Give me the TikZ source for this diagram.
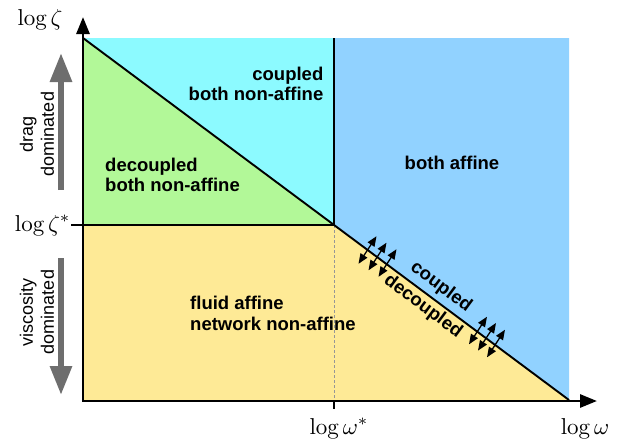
\documentclass[tikz,border=0pt]{standalone}
\usepackage{fontspec}
\newfontfamily\hv{Liberation Sans}
\usetikzlibrary{arrows.meta,calc}
\definecolor{cyanreg}{RGB}{140,250,255}
\definecolor{bluereg}{RGB}{145,210,255}
\definecolor{greenreg}{RGB}{178,248,152}
\definecolor{yellowreg}{RGB}{254,234,150}
\definecolor{grayarr}{RGB}{110,110,110}
\definecolor{dashgray}{RGB}{150,150,150}
\begin{document}
\begin{tikzpicture}[x=1pt,y=-1pt,
  axis/.style={line width=2.8pt, line join=miter},
  border/.style={line width=1.9pt, line join=miter},
  ticks/.style={line width=2.2pt},
  grayarrow/.style={grayarr, line width=6pt, -{Triangle[length=29pt,width=21pt]}},
  dbl/.style={line width=1.3pt, {Triangle[length=10pt,width=8pt]}-{Triangle[length=10pt,width=8pt]}},
  region/.style={font=\hv\bfseries\fontsize{18.5}{20.5}\selectfont, inner sep=0pt},
  sidetxt/.style={font=\hv\fontsize{18}{21}\selectfont, inner sep=0pt, align=center, rotate=90},
  mathlbl/.style={scale=2.3, inner sep=0pt}]
\useasboundingbox (0,0) rectangle (624,442);
% key points
\coordinate (O) at (83,401);
\coordinate (TL) at (83,38);
\coordinate (C) at (334,225);
\coordinate (L) at (83,225);
\coordinate (T) at (334,38);
\coordinate (TR) at (569,38);
\coordinate (BR) at (569,400);
\coordinate (BL) at (83,400);
\coordinate (B) at (334,401);
\coordinate (ytip) at (83,17);
\coordinate (xtip) at (597,401);
% regions
\fill[cyanreg] (TL) -- (T) -- (C) -- cycle;
\fill[greenreg] (TL) -- (C) -- (L) -- cycle;
\fill[bluereg] (T) -- (TR) -- (BR) -- (C) -- cycle;
\fill[yellowreg] (L) -- (C) -- (BR) -- (BL) -- cycle;
% dashed line
\draw[dashgray, line width=0.9pt, dash pattern=on 3pt off 2pt] (C) -- (B);
% borders
\draw[border] (TL) -- (BR);
\draw[border] (L) -- (C) -- (T);
% axes
\draw[axis, {Triangle[length=17pt,width=13pt]}-{Triangle[length=17pt,width=13pt]}] (ytip) -- (O) -- (xtip);
\coordinate (Lt) at (71,225);
\coordinate (Bt) at (334,409);
\draw[ticks] (L) -- (Lt);
\draw[ticks] (B) -- (Bt);
% gray arrows
\coordinate (ga1) at (61,190);
\coordinate (ga2) at (61,53);
\coordinate (gb1) at (61,258);
\coordinate (gb2) at (61,395);
\draw[grayarrow] (ga1) -- (ga2);
\draw[grayarrow] (gb1) -- (gb2);
% double arrows
\foreach \i/\cx/\cy in {1/367.5/250, 2/377.5/256.5, 3/387.5/263, 4/478/330.5, 5/487/336.8, 6/496/343.5} {
  \coordinate (d\i a) at (\cx-9,\cy+13.8);
  \coordinate (d\i b) at (\cx+9,\cy-13.8);
  \draw[dbl] (d\i a) -- (d\i b);
}
% labels
\node[region, align=right, anchor=north east] (cbna) at (323.5,66.8) {coupled\\both non-affine};
\node[region, align=left, anchor=north west] (dbna) at (105,157.8) {decoupled\\both non-affine};
\node[region] (ba) at (452,163) {both affine};
\node[region, align=left, anchor=north west] (fana) at (190,296) {fluid affine\\network non-affine};
\node[region, rotate=-36.6] (cpl) at (441,287) {coupled};
\node[region, rotate=-36.6] (dcpl) at (423,306.5) {decoupled};
\node[sidetxt] (drag) at (37,134) {drag\\dominated};
\node[sidetxt] (visc) at (37,312) {viscosity\\dominated};
% axis labels
\node[mathlbl, anchor=base] (ylab) at (40,25) {$\log\zeta$};
\node[mathlbl, anchor=base east] (zslab) at (71,231) {$\log\zeta^*$};
\node[mathlbl, anchor=base] (wslab) at (339,434) {$\log\omega^*$};
\node[mathlbl, anchor=base] (wlab) at (585,434) {$\log\omega$};
\end{tikzpicture}
\end{document}
